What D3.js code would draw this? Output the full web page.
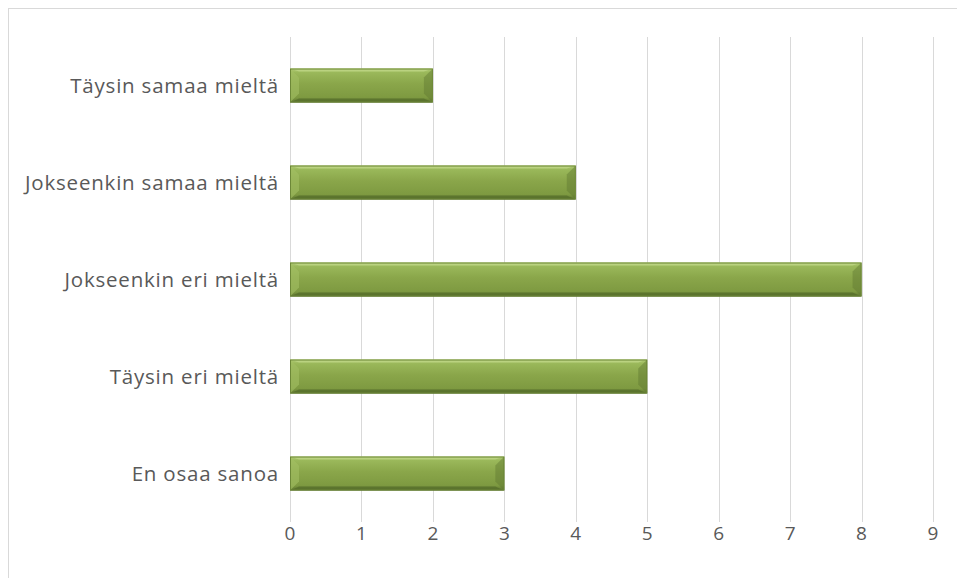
<!DOCTYPE html>
<html>
<head>
<meta charset="utf-8">
<script src="https://cdn.jsdelivr.net/npm/d3@7"></script>
<style>
  body { margin: 0; background: #fff; }
  text { font-family: "Open Sans", "Noto Sans", sans-serif; }
</style>
</head>
<body>
<div id="chart-area"></div>
<script>
// data
var categories = ["Täysin samaa mieltä", "Jokseenkin samaa mieltä", "Jokseenkin eri mieltä", "Täysin eri mieltä", "En osaa sanoa"];
var values = [2, 4, 8, 5, 3];
var xTicks = [0, 1, 2, 3, 4, 5, 6, 7, 8, 9];

var W = 957, H = 578;
var margin = { left: 290, right: 24, top: 37, bottom: 56 };
var width = 933 - margin.left,
    height = 522 - margin.top;

var svg = d3.select("#chart-area").append("svg")
    .attr("width", W)
    .attr("height", H);

// chart frame
svg.append("rect")
    .attr("x", 8.5).attr("y", 8.5)
    .attr("width", W + 10).attr("height", H + 10)
    .attr("fill", "none")
    .attr("stroke", "#d9d9d9");

var defs = svg.append("defs");
var grad = defs.append("linearGradient")
    .attr("id", "barGrad")
    .attr("x1", 0).attr("y1", 0).attr("x2", 0).attr("y2", 1);
grad.append("stop").attr("offset", "0%").attr("stop-color", "#b3cd77");
grad.append("stop").attr("offset", "12%").attr("stop-color", "#9ab85a");
grad.append("stop").attr("offset", "45%").attr("stop-color", "#8aa64a");
grad.append("stop").attr("offset", "85%").attr("stop-color", "#7e9a41");
grad.append("stop").attr("offset", "100%").attr("stop-color", "#5e7631");

var g = svg.append("g")
    .attr("transform", "translate(" + margin.left + "," + margin.top + ")");

var x = d3.scaleLinear().domain([0, 9]).range([0, width]);
var y = d3.scaleBand().domain(categories).range([0, height]).paddingInner(0.65).paddingOuter(0.325);

// gridlines
g.selectAll("line.grid")
    .data(xTicks)
    .enter().append("line")
    .attr("class", "grid")
    .attr("x1", function(d){ return Math.round(x(d)) + 0.5; })
    .attr("x2", function(d){ return Math.round(x(d)) + 0.5; })
    .attr("y1", 0)
    .attr("y2", height)
    .attr("stroke", "#d9d9d9")
    .attr("stroke-width", 1);

// x tick labels
g.selectAll("text.xlab")
    .data(xTicks)
    .enter().append("text")
    .attr("class", "xlab")
    .attr("x", function(d){ return x(d); })
    .attr("y", height + 18)
    .attr("text-anchor", "middle")
    .attr("font-size", "19px")
    .attr("fill", "#595959")
    .text(function(d){ return d; });

// y labels
g.selectAll("text.ylab")
    .data(categories)
    .enter().append("text")
    .attr("class", "ylab")
    .attr("x", -11)
    .attr("y", function(d){ return y(d) + y.bandwidth() / 2; })
    .attr("dy", "0.35em")
    .attr("text-anchor", "end")
    .attr("font-size", "20.5px")
    .attr("letter-spacing", "0.8px")
    .attr("fill", "#595959")
    .text(function(d){ return d; });

// bars with bevel
var bev = 9;
var bars = g.selectAll("g.bar")
    .data(categories.map(function(c, i){ return { cat: c, val: values[i] }; }))
    .enter().append("g")
    .attr("class", "bar");

bars.append("rect")
    .attr("x", x(0))
    .attr("y", function(d){ return y(d.cat); })
    .attr("width", function(d){ return x(d.val) - x(0); })
    .attr("height", y.bandwidth())
    .attr("fill", "url(#barGrad)");

function bevelPath(d, side) {
    var x0 = x(0), x1 = x(d.val), y0 = y(d.cat), y1 = y0 + y.bandwidth();
    var pts;
    if (side == "top") pts = [[x0, y0], [x1, y0], [x1 - bev, y0 + 3], [x0 + bev, y0 + 3]];
    if (side == "bottom") pts = [[x0, y1], [x1, y1], [x1 - bev, y1 - 4], [x0 + bev, y1 - 4]];
    if (side == "left") pts = [[x0, y0], [x0 + bev, y0 + bev], [x0 + bev, y1 - bev], [x0, y1]];
    if (side == "right") pts = [[x1, y0], [x1 - bev, y0 + bev], [x1 - bev, y1 - bev], [x1, y1]];
    return "M" + pts.map(function(p){ return p.join(","); }).join("L") + "Z";
}

var bevelStyle = [
    { side: "top", fill: "#c2d98a", op: 0.7 },
    { side: "left", fill: "#a3bf64", op: 0.6 },
    { side: "right", fill: "#5f7830", op: 0.45 },
    { side: "bottom", fill: "#566d2b", op: 0.75 }
];
bevelStyle.forEach(function(s){
    bars.append("path")
        .attr("d", function(d){ return bevelPath(d, s.side); })
        .attr("fill", s.fill)
        .attr("opacity", s.op);
});

bars.append("rect")
    .attr("x", x(0) + 0.5)
    .attr("y", function(d){ return y(d.cat) + 0.5; })
    .attr("width", function(d){ return x(d.val) - x(0) - 1; })
    .attr("height", y.bandwidth() - 1)
    .attr("fill", "none")
    .attr("stroke", "#6d8838")
    .attr("stroke-width", 1);
</script>
</body>
</html>
